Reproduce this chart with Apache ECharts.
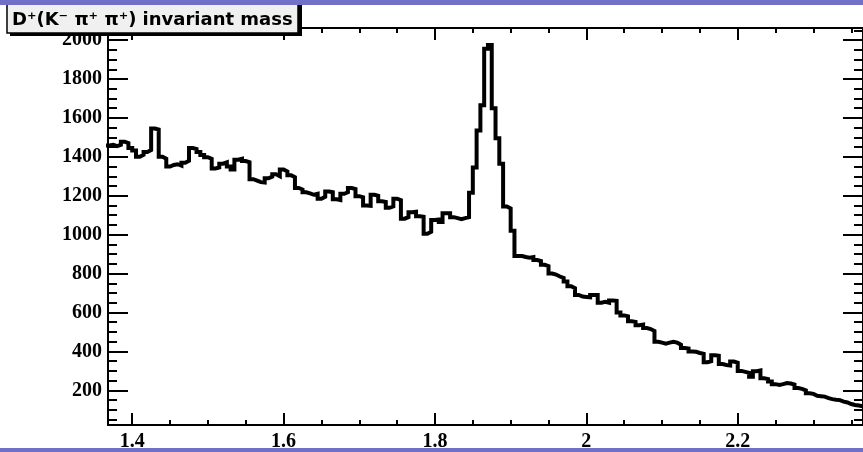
<!DOCTYPE html>
<html><head><meta charset="utf-8">
<script src="https://cdn.jsdelivr.net/npm/echarts@6/dist/echarts.min.js"></script>
<style>html,body{margin:0;padding:0;background:#fff}#c{width:863px;height:452px}</style>
</head><body><div id="c"></div>
<script>
// ---- data ----
const binStart = 1.365;
const binWidth = 0.005;
const counts = [
 1458,1462,1455,1462,1478,1470,1445,1432,1400,1410,
 1425,1435,1545,1540,1400,1390,1350,1358,1362,1355,
 1370,1380,1445,1440,1425,1410,1398,1390,1340,1345,
 1365,1372,1350,1335,1385,1390,1378,1372,1285,1278,
 1270,1268,1290,1298,1310,1300,1335,1325,1305,1295,
 1240,1232,1218,1212,1205,1210,1185,1195,1222,1218,
 1182,1178,1210,1218,1240,1235,1198,1192,1150,1148,
 1205,1200,1172,1168,1138,1145,1185,1178,1082,1090,
 1115,1118,1095,1092,1005,1015,1075,1078,1065,1110,
 1110,1090,1085,1080,1085,1090,1215,1345,1535,1665,
 1955,1975,1650,1495,1365,1145,1135,1020,890,890,
 885,882,885,870,865,845,838,800,795,785,
 778,760,735,725,690,682,680,678,690,690,
 650,655,650,662,660,600,585,580,555,552,
 535,538,520,515,505,450,445,440,445,450,
 445,435,418,415,400,398,392,388,345,350,
 380,378,335,330,328,348,342,300,295,290,
 270,298,302,262,258,245,232,228,232,238,
 235,230,212,208,200,185,182,172,170,168,
 160,155,152,150,142,138,130,125,122,118
];
const xMajorTicks = [1.4, 1.6, 1.8, 2.0, 2.2];
const xMinorTicks = [1.40,1.45,1.50,1.55,1.60,1.65,1.70,1.75,1.80,1.85,1.90,1.95,2.00,2.05,2.10,2.15,2.20,2.25,2.30,2.35];
const yMajorTicks = [200,400,600,800,1000,1200,1400,1600,1800,2000];
const yMinorTicks = [50,100,150,200,250,300,350,400,450,500,550,600,650,700,750,800,850,900,950,1000,1050,1100,1150,1200,1250,1300,1350,1400,1450,1500,1550,1600,1650,1700,1750,1800,1850,1900,1950,2000,2050];
const titleText = 'D\u207A(K\u207B \u03C0\u207A \u03C0\u207A) invariant mass';

const X_MIN = 1.368, X_MAX = 2.3655;
const Y_MIN = 22, Y_MAX = 2062;

const histData = counts.map((c, i) => [binStart + i * binWidth, c]);
histData.push([binStart + counts.length * binWidth, counts[counts.length - 1]]);

const labelFont = {color:'#000', fontFamily:'Liberation Serif', fontWeight:'bold', fontSize:20};

function xAx(pos, ticks, len, showLine, labels) {
  return {
    type:'value', gridIndex:0, position:pos, min:X_MIN, max:X_MAX,
    axisLine:{show:showLine, onZero:false, lineStyle:{color:'#000', width:2}},
    axisTick:{show:true, inside:true, length:len, customValues:ticks, lineStyle:{color:'#000', width:2}},
    axisLabel: labels ? Object.assign({show:true, customValues:ticks, margin:7,
      formatter: v => String(Math.round(v*10)/10)}, labelFont) : {show:false},
    splitLine:{show:false}
  };
}
function yAx(pos, ticks, len, showLine, labels) {
  return {
    type:'value', gridIndex:0, position:pos, min:Y_MIN, max:Y_MAX,
    axisLine:{show:showLine, onZero:false, lineStyle:{color:'#000', width:2}},
    axisTick:{show:true, inside:true, length:len, customValues:ticks, lineStyle:{color:'#000', width:2}},
    axisLabel: labels ? Object.assign({show:true, customValues:ticks, margin:6,
      formatter: v => String(Math.round(v))}, labelFont) : {show:false},
    splitLine:{show:false}
  };
}

const chart = echarts.init(document.getElementById('c'), null, {renderer:'canvas'});
chart.setOption({
  animation:false,
  backgroundColor:'#ffffff',
  grid:{left:108, top:28, width:759, height:397, containLabel:false},
  xAxis:[
    xAx('bottom', xMajorTicks, 12, true, true),
    xAx('bottom', xMinorTicks, 5, false, false),
    xAx('top', xMajorTicks, 12, true, false),
    xAx('top', xMinorTicks, 5, false, false)
  ],
  yAxis:[
    yAx('left', yMajorTicks, 20, true, true),
    yAx('left', yMinorTicks, 9, false, false),
    yAx('right', yMajorTicks, 20, true, false),
    yAx('right', yMinorTicks, 9, false, false)
  ],
  series:[{
    type:'line', xAxisIndex:0, yAxisIndex:0, step:'end', symbol:'none',
    data:histData, clip:true,
    lineStyle:{color:'#000', width:4, join:'miter'}
  }],
  graphic:[
    {type:'rect', z:100, shape:{x:10, y:-2, width:292, height:38}, style:{fill:'#000'}},
    {type:'rect', z:101, shape:{x:7, y:-5, width:291, height:38}, style:{fill:'#f0f0f0', stroke:'#000', lineWidth:1.5}},
    {type:'text', z:102, style:{text:titleText, x:12, y:20, verticalAlign:'middle', textVerticalAlign:'middle',
      font:'bold 18px "DejaVu Sans"', fill:'#000'}},
    {type:'rect', z:110, shape:{x:0, y:0, width:863, height:5}, style:{fill:'#7070c8'}},
    {type:'rect', z:110, shape:{x:0, y:448, width:863, height:4}, style:{fill:'#7070c8'}}
  ]
});
</script>
</body></html>
